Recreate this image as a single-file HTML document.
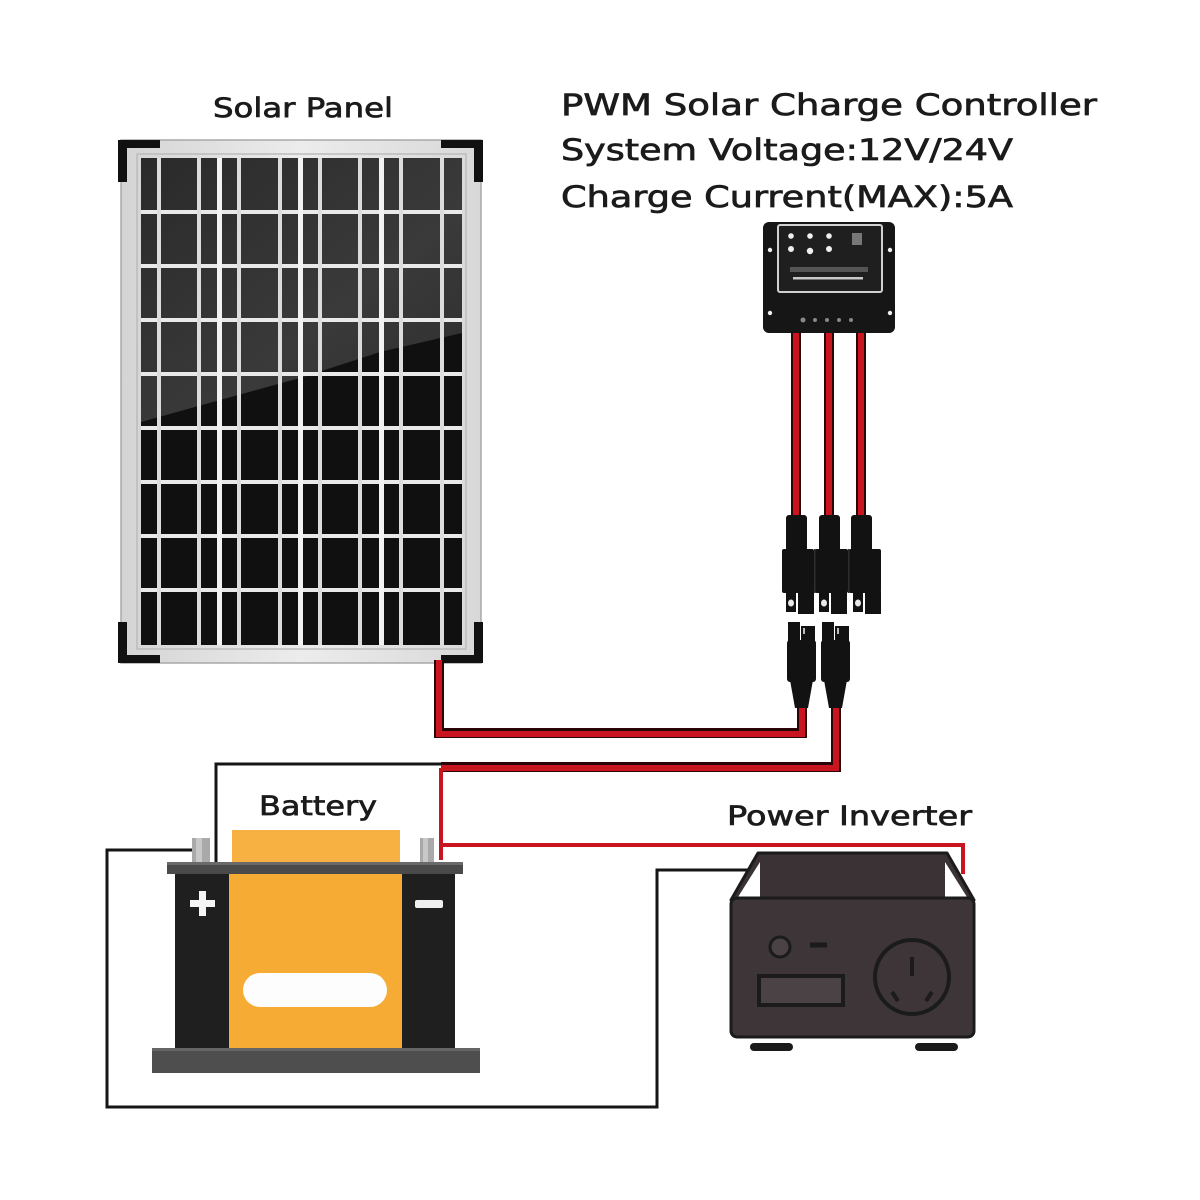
<!DOCTYPE html>
<html>
<head>
<meta charset="utf-8">
<style>
  html,body{margin:0;padding:0;background:#fff;}
  svg{display:block;}
  text{font-family:"DejaVu Sans","Liberation Sans",sans-serif;fill:#1b1b1b;stroke:#1b1b1b;stroke-width:0.7px;}
</style>
</head>
<body>
<svg width="1200" height="1200" viewBox="0 0 1200 1200" xmlns="http://www.w3.org/2000/svg">
  <defs>
    <linearGradient id="refl" x1="0" y1="0" x2="1" y2="1">
      <stop offset="0" stop-color="#2a2a2a"/>
      <stop offset="0.6" stop-color="#3a3a3a"/>
      <stop offset="1" stop-color="#2c2c2c"/>
    </linearGradient>
    <linearGradient id="frameg" x1="0" y1="0" x2="1" y2="0">
      <stop offset="0" stop-color="#d4d4d4"/>
      <stop offset="0.5" stop-color="#ececec"/>
      <stop offset="1" stop-color="#d8d8d8"/>
    </linearGradient>
  </defs>
  <rect width="1200" height="1200" fill="#fff"/>

  <!-- Labels -->
  <text x="213" y="117" font-size="27" textLength="180" lengthAdjust="spacingAndGlyphs">Solar Panel</text>
  <text x="561" y="115" font-size="29" textLength="536" lengthAdjust="spacingAndGlyphs">PWM Solar Charge Controller</text>
  <text x="561" y="160" font-size="29" textLength="452" lengthAdjust="spacingAndGlyphs">System Voltage:12V/24V</text>
  <text x="561" y="207" font-size="29" textLength="452" lengthAdjust="spacingAndGlyphs">Charge Current(MAX):5A</text>
  <text x="259" y="815" font-size="27" textLength="118" lengthAdjust="spacingAndGlyphs">Battery</text>
  <text x="727" y="825" font-size="27" textLength="245" lengthAdjust="spacingAndGlyphs">Power Inverter</text>

  <!-- Solar panel frame -->
  <rect x="121" y="140" width="360" height="523" fill="url(#frameg)" stroke="#a8a8a8" stroke-width="1.5"/>
  <rect x="137" y="154" width="329" height="495" fill="none" stroke="#bcbcbc" stroke-width="1.5"/>
  <rect x="141" y="158" width="321" height="487" fill="#101010"/>
  <polygon points="141,158 462,158 462,333 380,352 300,378 220,400 141,422" fill="url(#refl)"/>
  <g fill="#e9e9e9">
    <rect x="141" y="210" width="321" height="4"/>
    <rect x="141" y="264" width="321" height="4"/>
    <rect x="141" y="318" width="321" height="4"/>
    <rect x="141" y="372" width="321" height="4"/>
    <rect x="141" y="426" width="321" height="4"/>
    <rect x="141" y="480" width="321" height="4"/>
    <rect x="141" y="534" width="321" height="4"/>
    <rect x="141" y="588" width="321" height="4"/>
  </g>
  <g fill="#dcdcdc">
    <rect x="157" y="158" width="4" height="487"/>
    <rect x="197" y="158" width="4" height="487"/>
    <rect x="237" y="158" width="4" height="487"/>
    <rect x="278" y="158" width="4" height="487"/>
    <rect x="318" y="158" width="4" height="487"/>
    <rect x="358" y="158" width="4" height="487"/>
    <rect x="399" y="158" width="4" height="487"/>
    <rect x="440" y="158" width="4" height="487"/>
  </g>
  <g fill="#f2f2f2">
    <rect x="217" y="158" width="5" height="487"/>
    <rect x="298" y="158" width="5" height="487"/>
    <rect x="379" y="158" width="5" height="487"/>
  </g>
  <g fill="#111">
    <rect x="118" y="140" width="42" height="8"/>
    <rect x="118" y="140" width="9" height="42"/>
    <rect x="441" y="140" width="42" height="8"/>
    <rect x="474" y="140" width="9" height="42"/>
    <rect x="118" y="655" width="42" height="8"/>
    <rect x="118" y="622" width="9" height="41"/>
    <rect x="441" y="655" width="42" height="8"/>
    <rect x="474" y="622" width="9" height="41"/>
  </g>

  <!-- Wires -->
  <g fill="none" stroke-linejoin="miter">
    <polyline points="439,660 439,733 802,733 802,700" stroke="#2a0508" stroke-width="10"/>
    <polyline points="439,660 439,734 802,734 802,700" stroke="#c8151f" stroke-width="6"/>
    <polyline points="836,700 836,767 441,767" stroke="#2a0508" stroke-width="10"/>
    <polyline points="836,700 836,768 441,768" stroke="#c8151f" stroke-width="6"/>
    <polyline points="441,768 441,860" stroke="#c8151f" stroke-width="4"/>
    <polyline points="441,845 963,845 963,874" stroke="#c8151f" stroke-width="4"/>
    <polyline points="441,764 216,764 216,862" stroke="#151515" stroke-width="3"/>
    <polyline points="205,850 107,850 107,1107 657,1107 657,870 748,870" stroke="#151515" stroke-width="3"/>
    <line x1="796" y1="330" x2="796" y2="520" stroke="#2a0508" stroke-width="10"/>
    <line x1="796" y1="330" x2="796" y2="520" stroke="#c8151f" stroke-width="6"/>
    <line x1="829" y1="330" x2="829" y2="520" stroke="#2a0508" stroke-width="10"/>
    <line x1="829" y1="330" x2="829" y2="520" stroke="#c8151f" stroke-width="6"/>
    <line x1="861" y1="330" x2="861" y2="520" stroke="#2a0508" stroke-width="10"/>
    <line x1="861" y1="330" x2="861" y2="520" stroke="#c8151f" stroke-width="6"/>
  </g>

  <!-- Charge controller -->
  <rect x="763" y="222" width="132" height="111" rx="6" fill="#161616"/>
  <rect x="778" y="225" width="104" height="67" rx="2" fill="#1f1f1f" stroke="#d0d0d0" stroke-width="2"/>
  <g fill="#f0f0f0">
    <circle cx="791" cy="236" r="2.8"/>
    <circle cx="810" cy="236" r="2.8"/>
    <circle cx="829" cy="236" r="2.8"/>
    <circle cx="791" cy="249" r="3"/>
    <circle cx="810" cy="251" r="3.2"/>
    <circle cx="829" cy="249" r="3"/>
    <circle cx="770" cy="250" r="2.2"/>
    <circle cx="890" cy="250" r="2.2"/>
    <circle cx="770" cy="313" r="2.2"/>
    <circle cx="890" cy="313" r="2.2"/>
  </g>
  <rect x="852" y="233" width="10" height="12" fill="#777"/>
  <rect x="790" y="267" width="78" height="5" fill="#555"/>
  <rect x="793" y="277" width="70" height="2.5" fill="#c8c8c8"/>
  <g fill="#888">
    <circle cx="803" cy="320" r="2.5"/>
    <circle cx="815" cy="320" r="2"/>
    <circle cx="827" cy="320" r="2"/>
    <circle cx="839" cy="320" r="2"/>
    <circle cx="851" cy="320" r="2"/>
  </g>

  <!-- Top connectors -->
  <g fill="#121212">
    <rect x="786" y="515" width="21" height="38" rx="3"/>
    <rect x="819" y="515" width="21" height="38" rx="3"/>
    <rect x="851" y="515" width="21" height="38" rx="3"/>
    <rect x="782" y="549" width="32" height="44" rx="2"/>
    <rect x="815" y="549" width="33" height="44" rx="2"/>
    <rect x="849" y="549" width="32" height="44" rx="2"/>
    <rect x="786" y="592" width="10" height="20"/>
    <rect x="798" y="592" width="16" height="22"/>
    <rect x="819" y="592" width="10" height="20"/>
    <rect x="831" y="592" width="16" height="22"/>
    <rect x="853" y="592" width="10" height="20"/>
    <rect x="865" y="592" width="16" height="22"/>
  </g>
  <g fill="#2e2e2e">
    <rect x="814" y="549" width="1.5" height="44"/>
    <rect x="848" y="549" width="1.5" height="44"/>
  </g>
  <g fill="#e8e8e8">
    <ellipse cx="791" cy="603" rx="3" ry="3.5"/>
    <ellipse cx="824" cy="603" rx="3" ry="3.5"/>
    <ellipse cx="858" cy="603" rx="3" ry="3.5"/>
  </g>

  <!-- Bottom connectors -->
  <g fill="#121212">
    <rect x="788" y="622" width="12" height="20"/>
    <rect x="801" y="626" width="14" height="16"/>
    <rect x="822" y="622" width="12" height="20"/>
    <rect x="835" y="626" width="14" height="16"/>
    <rect x="787" y="640" width="29" height="42" rx="3"/>
    <rect x="821" y="640" width="29" height="42" rx="3"/>
    <polygon points="790,680 813,680 808,708 795,708"/>
    <polygon points="824,680 847,680 842,708 829,708"/>
  </g>
  <g fill="#bbb">
    <rect x="803" y="628" width="2" height="6"/>
    <rect x="837" y="628" width="2" height="6"/>
  </g>

  <!-- Battery -->
  <rect x="232" y="830" width="168" height="34" fill="#f7b142"/>
  <rect x="192" y="838" width="18" height="25" fill="#a9a9a9"/>
  <rect x="196" y="838" width="6" height="25" fill="#c8c8c8"/>
  <rect x="420" y="838" width="14" height="25" fill="#a9a9a9"/>
  <rect x="423" y="838" width="5" height="25" fill="#c8c8c8"/>
  <rect x="175" y="873" width="280" height="178" fill="#1f1f1f"/>
  <rect x="167" y="862" width="296" height="12" fill="#4a4a4a"/>
  <rect x="167" y="862" width="296" height="3" fill="#6a6a6a"/>
  <rect x="229" y="874" width="173" height="178" fill="#f6ab35"/>
  <rect x="243" y="973" width="144" height="34" rx="17" fill="#fdfdfd"/>
  <rect x="190" y="900" width="25" height="7" fill="#f5f5f5"/>
  <rect x="199" y="891" width="7" height="25" fill="#f5f5f5"/>
  <rect x="415" y="900" width="28" height="8" rx="2" fill="#f0f0f0"/>
  <rect x="152" y="1048" width="328" height="25" fill="#4e4e4e"/>
  <rect x="152" y="1048" width="328" height="3" fill="#666"/>

  <!-- Inverter -->
  <polygon points="731,900 758,853 947,853 974,900" fill="#3a3234" stroke="#1b1b1b" stroke-width="3" stroke-linejoin="round"/>
  <polygon points="738,897 760,862 760,897" fill="#fff"/>
  <polygon points="945,862 967,897 945,897" fill="#fff"/>
  <rect x="731" y="898" width="243" height="139" rx="6" fill="#3d3537" stroke="#1b1b1b" stroke-width="3"/>
  <circle cx="780" cy="947" r="10" fill="#4a4244" stroke="#1b1b1b" stroke-width="3"/>
  <line x1="810" y1="945" x2="827" y2="945" stroke="#1b1b1b" stroke-width="5"/>
  <rect x="759" y="976" width="84" height="29" fill="#4a4244" stroke="#1b1b1b" stroke-width="4"/>
  <circle cx="912" cy="977" r="37" fill="#3d3537" stroke="#1b1b1b" stroke-width="4"/>
  <line x1="912" y1="957" x2="912" y2="976" stroke="#1b1b1b" stroke-width="4"/>
  <line x1="892" y1="992" x2="898" y2="1001" stroke="#1b1b1b" stroke-width="4"/>
  <line x1="932" y1="992" x2="926" y2="1001" stroke="#1b1b1b" stroke-width="4"/>
  <rect x="750" y="1043" width="43" height="8" rx="4" fill="#1b1b1b"/>
  <rect x="915" y="1043" width="43" height="8" rx="4" fill="#1b1b1b"/>
</svg>
</body>
</html>
